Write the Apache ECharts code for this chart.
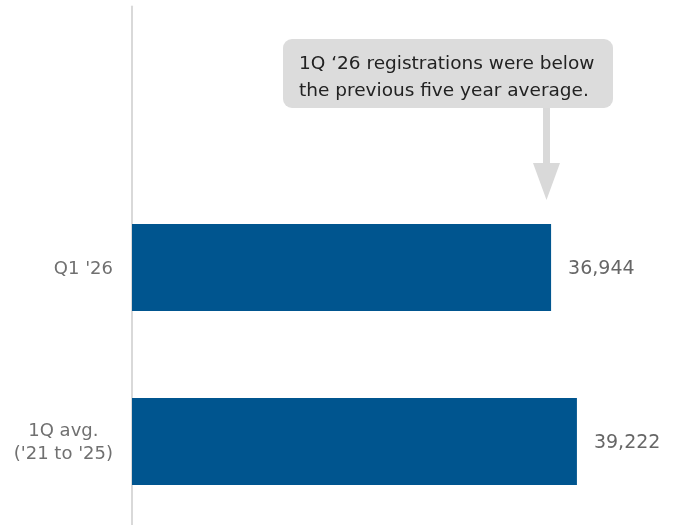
<!DOCTYPE html>
<html>
<head>
<meta charset="utf-8">
<script src="https://cdn.jsdelivr.net/npm/echarts@6/dist/echarts.min.js"></script>
<style>html,body{margin:0;padding:0;background:#fff}#c{width:678px;height:525px}</style>
</head>
<body>
<div id="c"></div>
<script>
var categories = ["1Q avg.\n('21 to '25)", "Q1 '26", ""];
var values = [39222, 36944, null];
var calloutText = "1Q \u201826 registrations were below\nthe previous five year average.";

var FONT = "DejaVu Sans, sans-serif";
var chart = echarts.init(document.getElementById('c'), null, {renderer: 'canvas'});
chart.setOption({
  animation: false,
  backgroundColor: '#fff',
  grid: {left: 132, top: 6.5, width: 544.5, height: 522, containLabel: false, outerBoundsMode: 'none'},
  xAxis: {type: 'value', min: 0, max: 48000, show: false},
  yAxis: {
    type: 'category', data: categories,
    axisLine: {show: true, lineStyle: {color: '#d9d9d9', width: 2}},
    axisTick: {show: false},
    axisLabel: {
      margin: 19, color: '#707070', fontFamily: FONT, fontSize: 18, lineHeight: 23,
      padding: [3, 0, 0, 0],
      formatter: function (v) {
        if (v.indexOf('\n') >= 0) {
          var p = v.split('\n');
          return '{a|' + p[0] + '}\n{b|' + p[1] + '}';
        }
        return v;
      },
      rich: {
        a: {align: 'center', color: '#707070', fontFamily: FONT, fontSize: 18, lineHeight: 23},
        b: {color: '#707070', fontFamily: FONT, fontSize: 18, lineHeight: 23}
      }
    }
  },
  series: [{
    type: 'bar', data: values, barWidth: 87,
    itemStyle: {color: '#00558f'},
    label: {
      show: true, position: 'right', distance: 17, offset: [0, 2],
      color: '#666', fontFamily: FONT, fontSize: 19,
      formatter: function (p) { return p.value.toLocaleString('en-US'); }
    }
  }],
  graphic: [
    {type: 'rect', shape: {x: 283, y: 39, width: 330, height: 69, r: 9}, style: {fill: '#dcdcdc'}},
    {type: 'text', x: 299, y: 51, style: {text: calloutText, fill: '#222', font: '18.5px ' + FONT, lineHeight: 27}},
    {type: 'polygon', shape: {points: [[543, 108], [550, 108], [550, 163], [560, 163], [546.5, 200], [533, 163], [543, 163]]}, style: {fill: '#d9d9d9'}}
  ]
});
</script>
</body>
</html>
